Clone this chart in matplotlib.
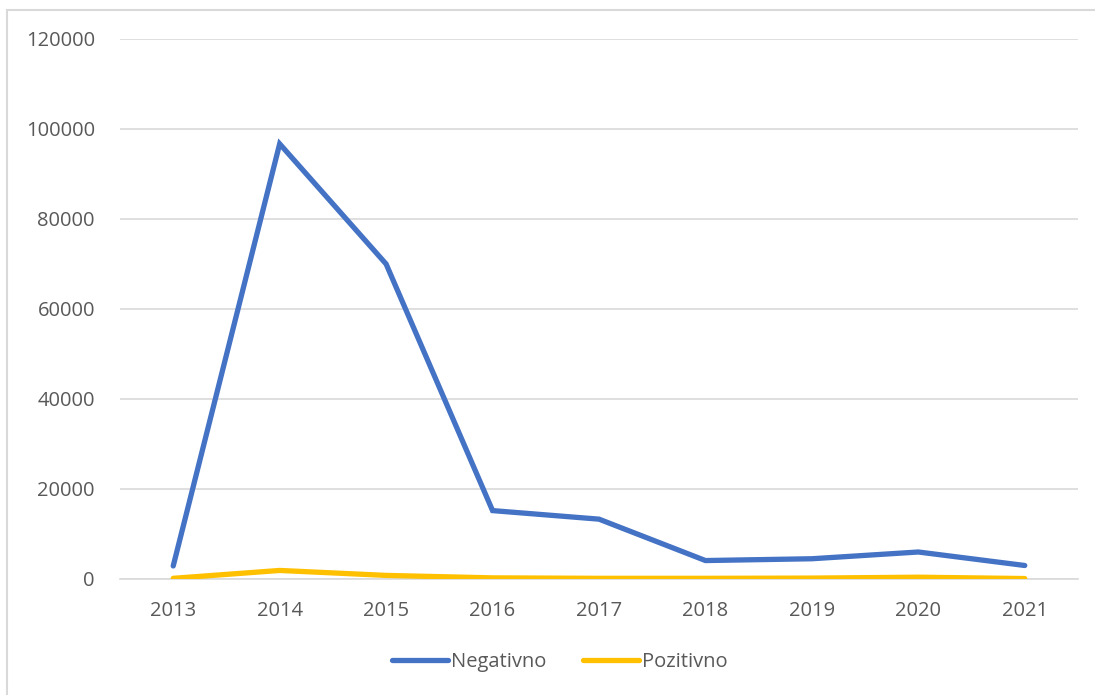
import matplotlib
matplotlib.use("Agg")
import matplotlib.pyplot as plt
from matplotlib.patches import Rectangle
import numpy as np

years = ["2013", "2014", "2015", "2016", "2017", "2018", "2019", "2020", "2021"]
negativno = [2900, 96700, 70000, 15200, 13300, 4100, 4500, 6000, 3000]
pozitivno = [150, 1900, 800, 250, 150, 150, 200, 400, 100]
yticks = [0, 20000, 40000, 60000, 80000, 100000, 120000]

plt.rcParams["font.family"] = ["Open Sans", "DejaVu Sans"]
txt = "#595959"
grid = "#D9D9D9"

fig = plt.figure(figsize=(10.95, 6.95), dpi=100)
W, H = 1095, 695
ax = fig.add_axes([120 / W, 1 - 579 / H, (1078 - 120) / W, (579 - 39) / H])

x = np.arange(len(years))
ax.plot(x, negativno, color="#4472C4", lw=3.8, solid_capstyle="round",
        solid_joinstyle="miter", label="Negativno", zorder=3)
ax.plot(x, pozitivno, color="#FFC000", lw=3.8, solid_capstyle="round",
        solid_joinstyle="miter", label="Pozitivno", zorder=3)

ax.set_xlim(-0.5, len(years) - 0.5)
ax.set_ylim(0, 120000)
ax.set_xticks(x)
ax.set_xticklabels(years)
ax.set_yticks(yticks)
ax.set_yticklabels([str(v) for v in yticks])
ax.tick_params(axis="both", length=0, labelsize=14.5, colors=txt)
ax.tick_params(axis="x", pad=16)
ax.tick_params(axis="y", pad=18)
ax.yaxis.grid(True, color=grid, lw=1.2)
ax.set_axisbelow(True)
for s in ["top", "right", "left"]:
    ax.spines[s].set_visible(False)
ax.spines["bottom"].set_color(grid)
ax.spines["bottom"].set_linewidth(1.2)

leg = fig.legend(loc="center", bbox_to_anchor=(560 / W, 1 - 662 / H), ncol=2,
                 frameon=False, fontsize=14.5, handlelength=2.8, handletextpad=0.15,
                 columnspacing=1.8)
for t in leg.get_texts():
    t.set_color(txt)

fig.patches.append(Rectangle((7 / W, -0.05), 1.2, 1 - 10 / H + 0.05,
                             transform=fig.transFigure, fill=False,
                             edgecolor=grid, lw=1.5))

fig.savefig("out.png", dpi=100, facecolor="white")
